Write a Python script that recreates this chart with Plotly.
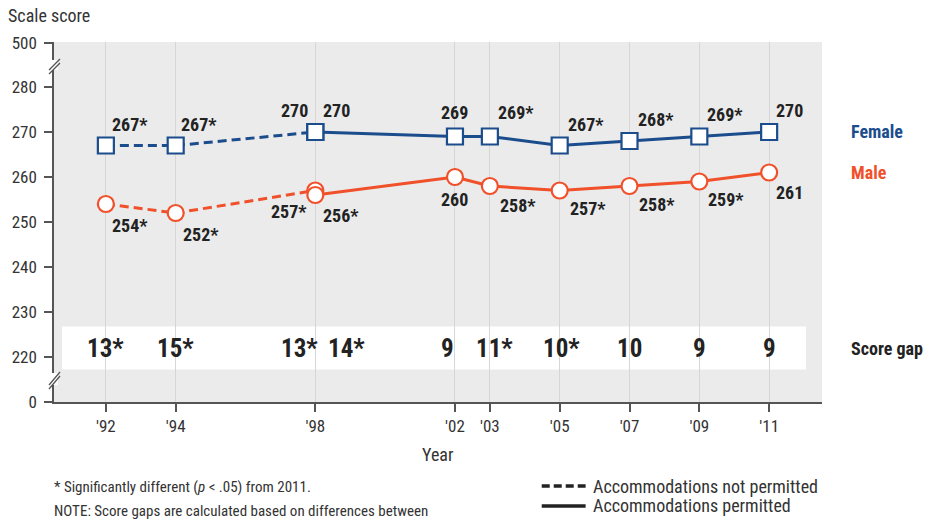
import plotly.graph_objects as go

# ---------------- data ----------------
years_np = [1992, 1994, 1998]
female_np = [267, 267, 270]
male_np = [254, 252, 257]
female_np_lbl = ["267*", "267*", "270"]
male_np_lbl = ["254*", "252*", "257*"]

years_p = [1998, 2002, 2003, 2005, 2007, 2009, 2011]
female_p = [270, 269, 269, 267, 268, 269, 270]
male_p = [256, 260, 258, 257, 258, 259, 261]
female_p_lbl = ["270", "269", "269*", "267*", "268*", "269*", "270"]
male_p_lbl = ["256*", "260", "258*", "257*", "258*", "259*", "261"]

gap_years = [1992, 1994, 1998, 1998, 2002, 2003, 2005, 2007, 2009, 2011]
gap_labels = ["13*", "15*", "13*", "14*", "9", "11*", "10*", "10", "9", "9"]

tick_years = [1992, 1994, 1998, 2002, 2003, 2005, 2007, 2009, 2011]
tick_year_labels = ["'92", "'94", "'98", "'02", "'03", "'05", "'07", "'09", "'11"]

y_tickvals = [210, 220, 230, 240, 250, 260, 270, 280, 289.8]
y_ticktext = ["0", "220", "230", "240", "250", "260", "270", "280", "500"]

# ---------------- style ----------------
F = "Liberation Sans Narrow, Roboto Condensed, DejaVu Sans Condensed, Roboto, sans-serif"
BLUE = "#1b4d8c"
ORANGE = "#f0502a"
TXT = "#222222"

# label offsets (pixels) for each point label
f_np_off = [(24, -21), (23, -21), (-21, -22)]
m_np_off = [(24, 21), (25, 21), (-26, 21)]
f_p_off = [(21, -22), (0, -24), (26, -24), (26, -21), (26, -22), (26, -22), (20, -22)]
m_p_off = [(26, 20), (0, 22), (28, 19), (28, 18), (27, 18), (27, 18), (20, 20)]
gap_off = [0, 0, -16, 31, -7, 5, 2, 0, 0, 0]

fig = go.Figure()

def add_series(xs, ys, color, symbol, dash):
    fig.add_trace(go.Scatter(
        x=xs, y=ys, mode="lines+markers",
        line=dict(color=color, width=3, dash=dash),
        marker=dict(symbol=symbol, size=16, color="white",
                    line=dict(color=color, width=2.2)),
        hoverinfo="skip", showlegend=False, cliponaxis=False))

add_series(years_np, female_np, BLUE, "square", "9px,5px")
add_series(years_np, male_np, ORANGE, "circle", "9px,5px")
add_series(years_p, female_p, BLUE, "square", "solid")
add_series(years_p, male_p, ORANGE, "circle", "solid")

annotations = []

def add_labels(xs, ys, labels, offs):
    for x, y, t, (dx, dy) in zip(xs, ys, labels, offs):
        annotations.append(dict(x=x, y=y, xref="x", yref="y", text=t,
                                showarrow=False, xshift=dx, yshift=-dy,
                                xanchor="center", yanchor="middle",
                                font=dict(family=F, size=18, color=TXT, weight="bold")))

add_labels(years_np, female_np, female_np_lbl, f_np_off)
add_labels(years_np, male_np, male_np_lbl, m_np_off)
add_labels(years_p, female_p, female_p_lbl, f_p_off)
add_labels(years_p, male_p, male_p_lbl, m_p_off)

for x, t, dx in zip(gap_years, gap_labels, gap_off):
    annotations.append(dict(x=x, y=222, xref="x", yref="y", text=t, showarrow=False,
                            xshift=dx, xanchor="center", yanchor="middle",
                            font=dict(family=F, size=25, color=TXT, weight="bold")))

def px_x(p):
    return (p - 52) / 770.0

def px_y(p):
    return (402 - p) / 360.0

def note(px, py, text, size, color="#333", anchor="left", bold=False):
    f = dict(family=F, size=size, color=color)
    if bold:
        f["weight"] = "bold"
    return dict(x=px_x(px), y=px_y(py), xref="paper", yref="paper", text=text,
                showarrow=False, xanchor=anchor, yanchor="middle", font=f)

annotations += [
    note(849, 131, "Female", 18, BLUE, bold=True),
    note(849, 172, "Male", 18, ORANGE, bold=True),
    note(849, 348, "Score gap", 18, TXT, bold=True),
    note(4, 15, "Scale score", 18),
    note(437, 454, "Year", 18, anchor="center"),
    note(50, 487, "* Significantly different (<i>p</i> < .05) from 2011.", 15),
    note(50, 511, "NOTE: Score gaps are calculated based on differences between", 15),
    note(590, 486, "Accommodations not permitted", 18),
    note(590, 506, "Accommodations permitted", 18),
]

shapes = [
    # white score-gap band
    dict(type="rect", xref="paper", yref="y", x0=px_x(60), x1=px_x(806), y0=217.2, y1=226.8,
         fillcolor="white", line=dict(width=0), layer="between"),
    # bottom legend line samples
    dict(type="line", xref="paper", yref="paper", x0=px_x(541), x1=px_x(585),
         y0=px_y(486), y1=px_y(486), line=dict(color="#222", width=3.5, dash="8px,4px")),
    dict(type="line", xref="paper", yref="paper", x0=px_x(541), x1=px_x(585),
         y0=px_y(506), y1=px_y(506), line=dict(color="#222", width=3.5)),
]

# axis break marks
for (ytop, ybot) in [(57, 73), (370, 388)]:
    shapes.append(dict(type="rect", xref="paper", yref="paper",
                       x0=px_x(49), x1=px_x(56), y0=px_y(ybot - 3), y1=px_y(ytop + 3),
                       fillcolor="#ffffff", line=dict(width=0), layer="above"))
    shapes.append(dict(type="line", xref="paper", yref="paper",
                       x0=px_x(47), x1=px_x(58), y0=px_y(ybot - 3), y1=px_y(ytop + 2),
                       line=dict(color="#555", width=1.3)))
    shapes.append(dict(type="line", xref="paper", yref="paper",
                       x0=px_x(47), x1=px_x(58), y0=px_y(ybot + 1), y1=px_y(ytop + 6),
                       line=dict(color="#555", width=1.3)))

fig.update_layout(
    width=932, height=521,
    margin=dict(l=52, r=110, t=42, b=119),
    paper_bgcolor="white",
    plot_bgcolor="#ebebeb",
    annotations=annotations,
    shapes=shapes,
    font=dict(family=F, color="#333"),
    xaxis=dict(range=[1990.514, 2012.514], tickvals=tick_years, ticktext=tick_year_labels,
               showgrid=True, gridcolor="#d6d6d6", gridwidth=1,
               showline=True, linecolor="#555", linewidth=1.5,
               ticks="outside", ticklen=8, tickcolor="#555", tickwidth=1.5,
               tickfont=dict(family=F, size=17, color="#333"), zeroline=False,
               fixedrange=True),
    yaxis=dict(range=[210, 290], tickvals=y_tickvals, ticktext=y_ticktext,
               showgrid=False, showline=True, linecolor="#555", linewidth=1.5,
               ticks="outside", ticklen=8, tickcolor="#555", tickwidth=1.5,
               ticklabelstandoff=4,
               tickfont=dict(family=F, size=17, color="#333"), zeroline=False,
               fixedrange=True),
)

fig.write_html("out.html", config={"displayModeBar": False},
               post_script="document.body.style.margin='0';")
